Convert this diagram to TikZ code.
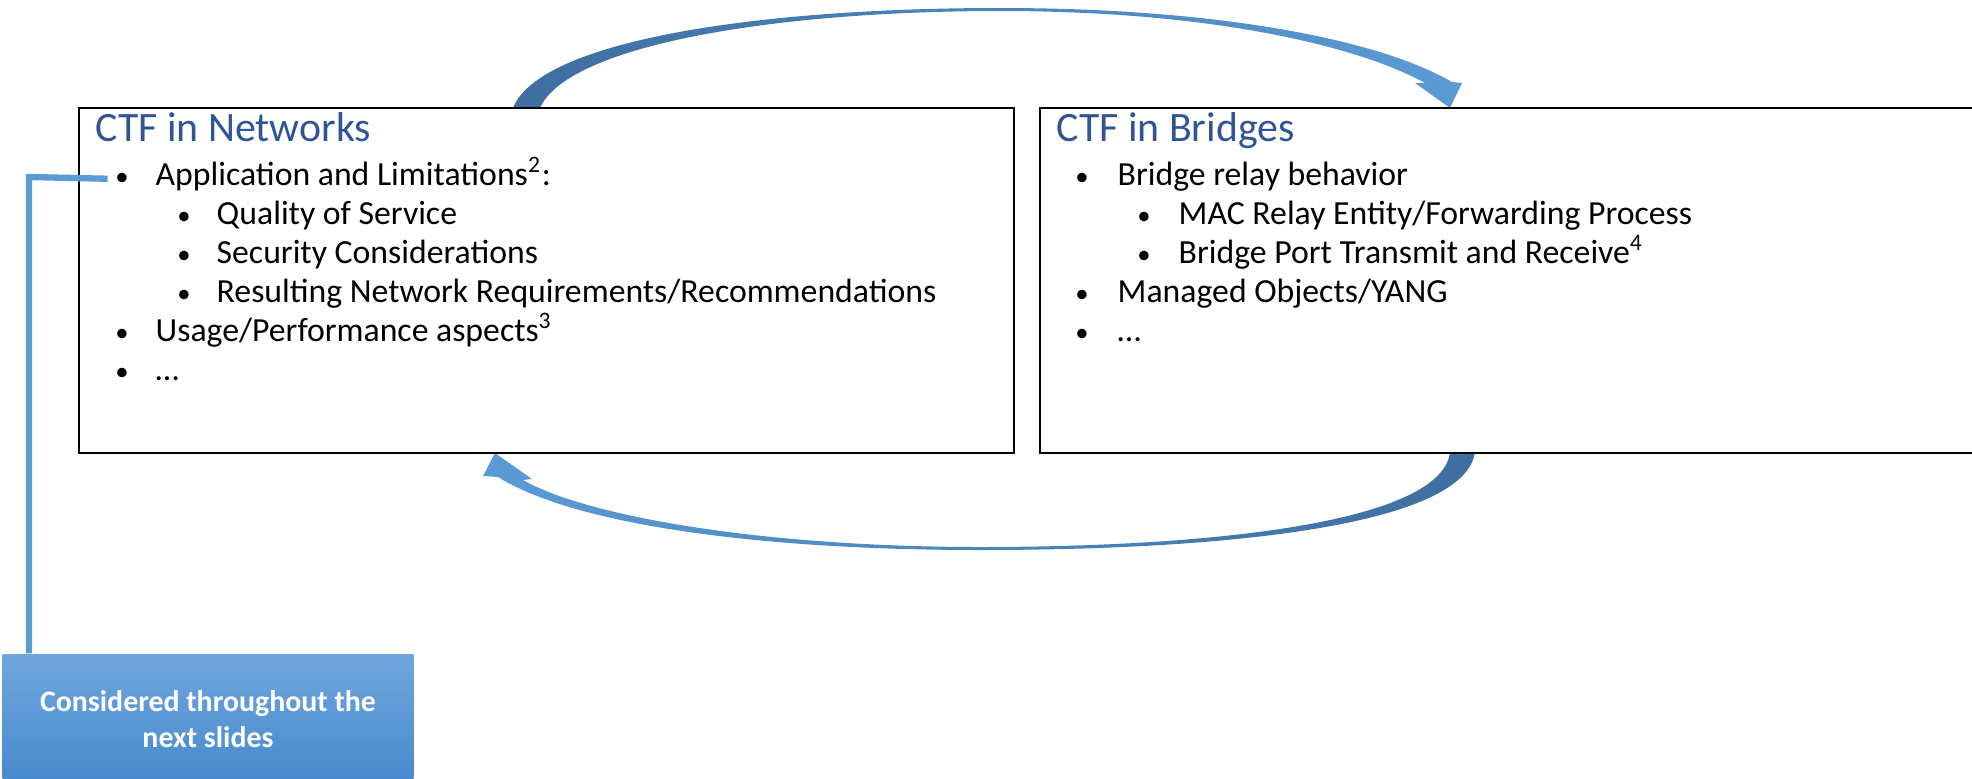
\documentclass[tikz,border=0pt]{standalone}
\usepackage{fontspec}
\setmainfont{Carlito}
\usepackage{tikz}
\usetikzlibrary{positioning}
\pgfdeclarelayer{bg}
\pgfsetlayers{bg,main}

\definecolor{headblue}{RGB}{47,85,151}
\definecolor{arrowdark}{RGB}{62,110,160}
\definecolor{arrowlight}{RGB}{91,155,213}
\definecolor{linkblue}{RGB}{91,155,213}
\definecolor{notetop}{RGB}{112,166,222}
\definecolor{notebot}{RGB}{70,137,205}

\tikzset{
  panel/.style={draw=black, line width=0.6pt, minimum height=34.5mm, inner sep=0},
  heading/.style={anchor=base west, inner sep=0, text=headblue,
    font=\fontsize{11.9}{13}\selectfont},
  item/.style={anchor=base west, inner sep=0, font=\fontsize{9.6}{11}\selectfont},
  dot/.style={anchor=base, inner sep=0, font=\fontsize{7.6}{9}\selectfont},
  link/.style={draw=linkblue, line width=1.8pt},
  notebox/.style={minimum width=41.1mm, minimum height=13mm, inner sep=0,
    top color=notetop, bottom color=notebot, text=white, align=center,
    font=\bfseries\fontsize{8.5}{10.2}\selectfont},
}

\begin{document}
\begin{tikzpicture}[x=0.1mm, y=-0.1mm]
  \useasboundingbox (0,0) rectangle (1972,778);

  % the two panels
  \node[panel, minimum width=93.5mm] (networks) at (546.5,280.5) {};
  \node[panel, minimum width=106mm] (bridges) at (1570,280.5) {};

  \node[heading] (nettitle) at (95,141) {CTF in Networks};
  \node[heading] (brtitle) at (1056,141) {CTF in Bridges};

  % bullet lists, level/text
  \foreach \lvl/\txt [count=\i] in {
      1/{Application and Limitations\textsuperscript{2}:},
      2/{Quality of Service},
      2/{Security Considerations},
      2/{Resulting Network Requirements/Recommendations},
      1/{Usage/Performance aspects\textsuperscript{3}},
      1/{…}} {
    \node[dot] (netb\i) at ({60+62*\lvl}, {146+39*\i}) {•};
    \node[item] (nett\i) at ({94+61*\lvl}, {146+39*\i}) {\txt};
  }
  \foreach \lvl/\txt [count=\i] in {
      1/{Bridge relay behavior},
      2/{MAC Relay Entity/Forwarding Process},
      2/{Bridge Port Transmit and Receive\textsuperscript{4}},
      1/{Managed Objects/YANG},
      1/{…}} {
    \node[dot] (brb\i) at ({1020+62*\lvl}, {146+39*\i}) {•};
    \node[item] (brt\i) at ({1056+61*\lvl}, {146+39*\i}) {\txt};
  }

  % curved arrows behind the panels
  \begin{pgfonlayer}{bg}
    \shade[left color=arrowdark, right color=arrowlight]
      (513,108) .. controls (540,40) and (760,8) .. (1000,8)
      .. controls (1220,8) and (1380,40) .. (1452,82)
      -- (1462,83) -- (1450,108) -- (1415,83) -- (1425,83)
      .. controls (1360,47) and (1215,11) .. (1000,11)
      .. controls (775,11) and (568,45) .. (540,108) -- cycle;
    \shade[left color=arrowlight, right color=arrowdark]
      (1475,452) .. controls (1465,525) and (1230,550) .. (980,550)
      .. controls (760,550) and (575,525) .. (498,477)
      -- (483,476) -- (495,453) -- (532,479) -- (523,480)
      .. controls (590,518) and (770,547) .. (980,547)
      .. controls (1215,547) and (1442,522) .. (1450,452) -- cycle;
  \end{pgfonlayer}

  % note box and its connector
  \node[notebox] (slides) at (208,719) {Considered throughout the\\next slides};
  \coordinate (elbow) at (29,177);
  \draw[link, shorten <=2pt] (netb1.west) -- (elbow) -- (elbow |- slides.north);
\end{tikzpicture}
\end{document}
